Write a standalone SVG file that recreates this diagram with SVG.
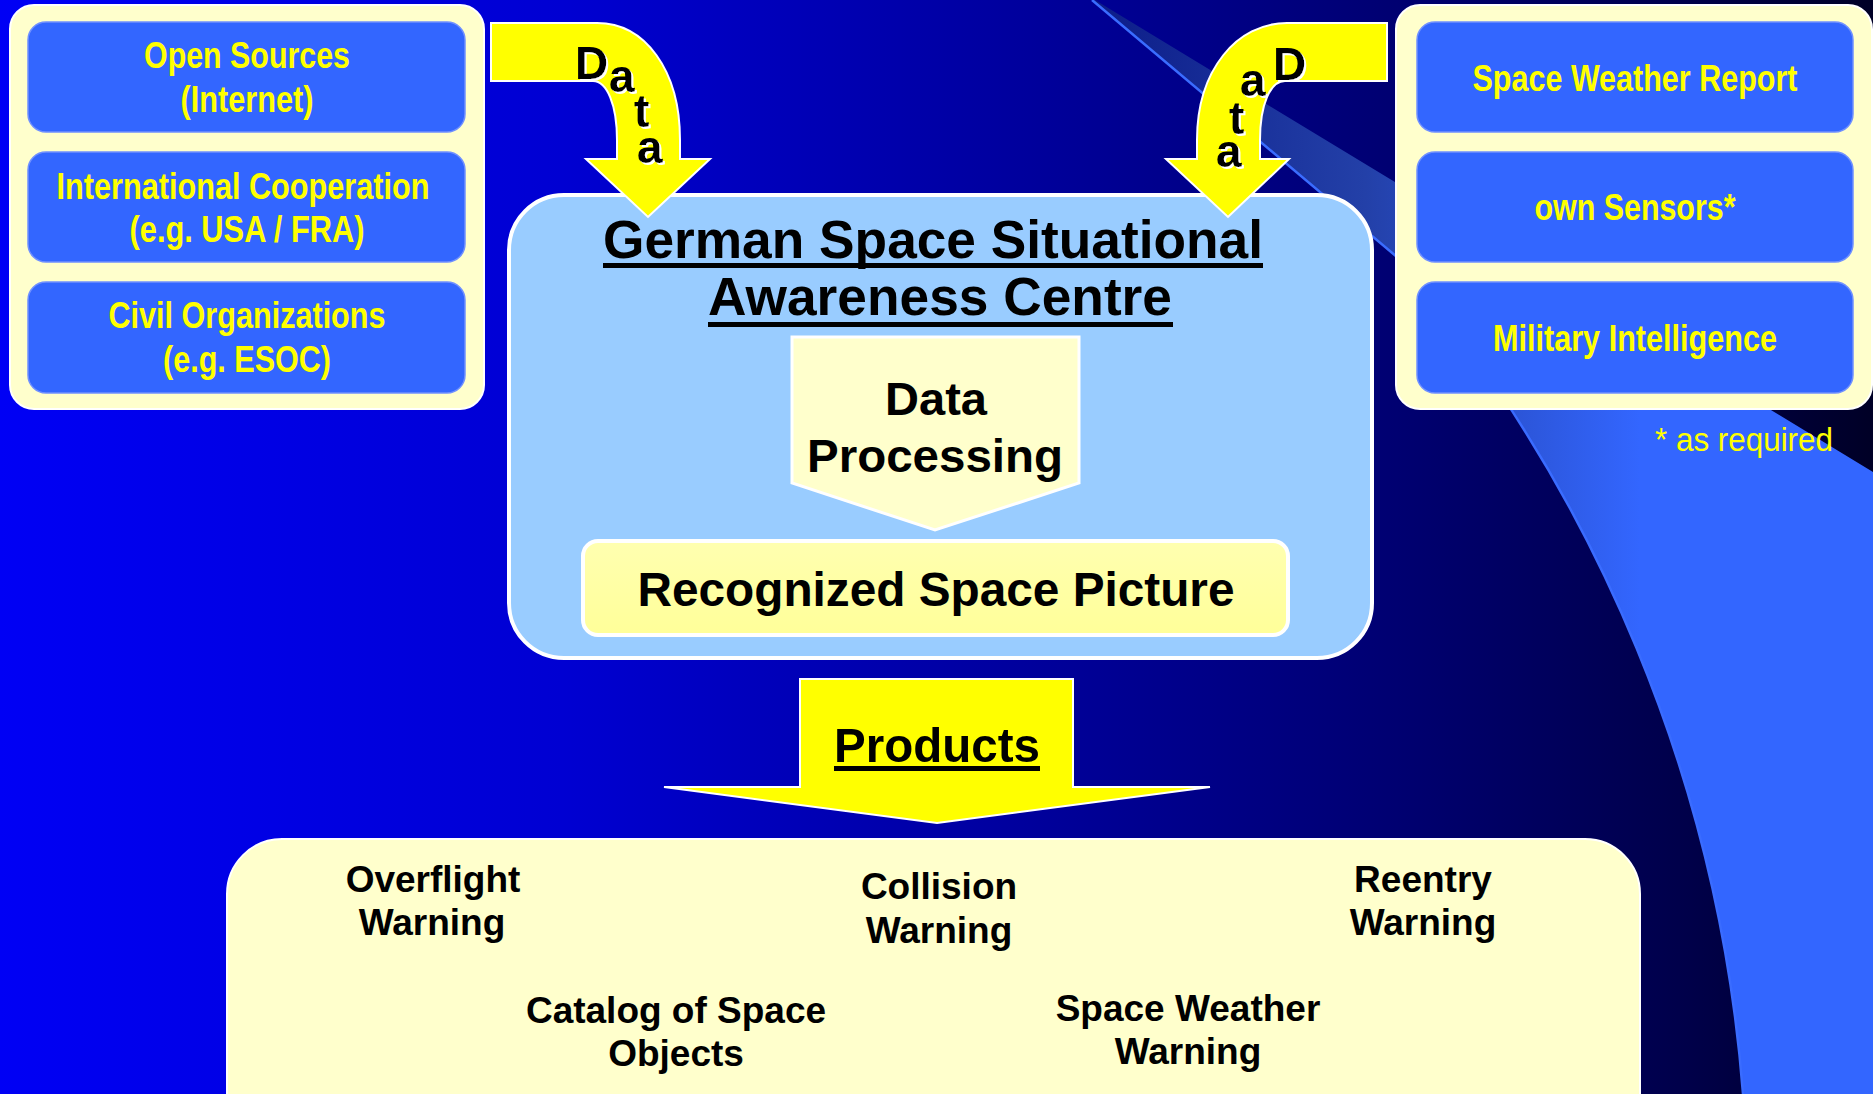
<svg xmlns="http://www.w3.org/2000/svg" width="1873" height="1094" viewBox="0 0 1873 1094">
  <defs>
    <linearGradient id="bg" x1="0" y1="0" x2="1" y2="0">
      <stop offset="0" stop-color="#0000f5"/>
      <stop offset="0.3" stop-color="#0000d2"/>
      <stop offset="0.55" stop-color="#00009c"/>
      <stop offset="0.75" stop-color="#000070"/>
      <stop offset="0.9" stop-color="#00004a"/>
      <stop offset="1" stop-color="#000026"/>
    </linearGradient>
    <linearGradient id="sw" gradientUnits="userSpaceOnUse" x1="1090" y1="0" x2="1640" y2="0">
      <stop offset="0" stop-color="#0c1c88"/>
      <stop offset="0.5" stop-color="#2340a8"/>
      <stop offset="1" stop-color="#3366ff"/>
    </linearGradient>
    <linearGradient id="rsp" x1="0" y1="0" x2="0" y2="1">
      <stop offset="0" stop-color="#ffffb0"/>
      <stop offset="1" stop-color="#ffff99"/>
    </linearGradient>
    <filter id="ws" x="-20%" y="-20%" width="150%" height="150%">
      <feFlood flood-color="#ffffff" result="w"/>
      <feComposite in="w" in2="SourceAlpha" operator="in" result="wa"/>
      <feOffset in="wa" dx="2" dy="2" result="off"/>
      <feMerge>
        <feMergeNode in="off"/>
        <feMergeNode in="SourceGraphic"/>
      </feMerge>
    </filter>
  </defs>
  <style>
    .cond { font-family: 'Liberation Sans', Arial, sans-serif; font-weight: bold; font-size: 36px; fill: #ffff00; text-anchor: middle; }
    .blk { font-family: 'Liberation Sans', Arial, sans-serif; font-weight: bold; fill: #000000; text-anchor: middle; }
    .let { font-family: 'Liberation Sans', Arial, sans-serif; font-weight: bold; font-size: 46px; fill: #000000; filter: url(#ws); }
    .outer { fill: #ffffcc; stroke: #ffffff; stroke-width: 2; }
    .src { fill: #3366ff; stroke: #7090ff; stroke-width: 1.5; }
    .arrow { fill: #ffff00; stroke: #ffffff; stroke-width: 2; }
    .ul { fill: #000000; }
  </style>

  <rect x="0" y="0" width="1873" height="1094" fill="url(#bg)"/>

  <g id="swoosh">
    <path d="M1092,0 L1397,257 A1460,1460 0 0 1 1743,1094 L1873,1094 L1873,472 L1095,0 Z" fill="url(#sw)"/>
    <path d="M1092,0 L1397,257 A1460,1460 0 0 1 1743,1094" fill="none" stroke="#3a6cff" stroke-width="2.5"/>
  </g>

  <g id="sources-left">
    <rect class="outer" x="10" y="5" width="474" height="404" rx="24"/>
    <g id="open-sources">
      <rect class="src" x="28" y="22" width="437" height="110" rx="18"/>
      <text class="cond" x="247" y="68" textLength="206" lengthAdjust="spacingAndGlyphs">Open Sources</text>
      <text class="cond" x="247" y="112" textLength="133" lengthAdjust="spacingAndGlyphs">(Internet)</text>
    </g>
    <g id="international-cooperation">
      <rect class="src" x="28" y="152" width="437" height="110" rx="18"/>
      <text class="cond" x="243" y="199" textLength="373" lengthAdjust="spacingAndGlyphs">International Cooperation</text>
      <text class="cond" x="247" y="242" textLength="235" lengthAdjust="spacingAndGlyphs">(e.g. USA / FRA)</text>
    </g>
    <g id="civil-organizations">
      <rect class="src" x="28" y="282" width="437" height="111" rx="18"/>
      <text class="cond" x="247" y="328" textLength="277" lengthAdjust="spacingAndGlyphs">Civil Organizations</text>
      <text class="cond" x="247" y="372" textLength="168" lengthAdjust="spacingAndGlyphs">(e.g. ESOC)</text>
    </g>
  </g>

  <g id="sources-right">
    <rect class="outer" x="1396" y="5" width="476" height="404" rx="24"/>
    <g id="space-weather-report">
      <rect class="src" x="1417" y="22" width="436" height="110" rx="18"/>
      <text class="cond" x="1635" y="91" textLength="325" lengthAdjust="spacingAndGlyphs">Space Weather Report</text>
    </g>
    <g id="own-sensors">
      <rect class="src" x="1417" y="152" width="436" height="110" rx="18"/>
      <text class="cond" x="1635" y="220" textLength="201" lengthAdjust="spacingAndGlyphs">own Sensors*</text>
    </g>
    <g id="military-intelligence">
      <rect class="src" x="1417" y="282" width="436" height="111" rx="18"/>
      <text class="cond" x="1635" y="351" textLength="284" lengthAdjust="spacingAndGlyphs">Military Intelligence</text>
    </g>
  </g>

  <g id="note">
    <text x="1655" y="451" font-family="'Liberation Sans', Arial, sans-serif" font-size="33" fill="#ffff00" textLength="178" lengthAdjust="spacingAndGlyphs">* as required</text>
  </g>

  <g id="centre">
    <rect x="509" y="195" width="863" height="463" rx="55" fill="#99ccff" stroke="#ffffff" stroke-width="4"/>
    <text class="blk" x="933" y="258" font-size="53" textLength="660" lengthAdjust="spacingAndGlyphs">German Space Situational</text>
    <rect class="ul" x="603" y="263" width="660" height="5"/>
    <text class="blk" x="940" y="315" font-size="53" textLength="464" lengthAdjust="spacingAndGlyphs">Awareness Centre</text>
    <rect class="ul" x="708" y="322" width="465" height="5"/>
    <g id="data-processing">
      <polygon points="792,337 1079,337 1079,483 935,530 792,483" fill="#ffffcc" stroke="#ffffff" stroke-width="3"/>
      <text class="blk" x="936" y="415" font-size="47">Data</text>
      <text class="blk" x="935" y="472" font-size="47" textLength="256" lengthAdjust="spacingAndGlyphs">Processing</text>
    </g>
    <g id="recognized-space-picture">
      <rect x="583" y="541" width="705" height="94" rx="15" fill="url(#rsp)" stroke="#ffffff" stroke-width="4"/>
      <text class="blk" x="936" y="606" font-size="48" textLength="597" lengthAdjust="spacingAndGlyphs">Recognized Space Picture</text>
    </g>
  </g>

  <g id="products-box">
    <rect class="outer" x="227" y="839" width="1413" height="320" rx="55"/>
    <g id="overflight-warning">
      <text class="blk" x="433" y="892" font-size="37">Overflight</text>
      <text class="blk" x="432" y="935" font-size="37">Warning</text>
    </g>
    <g id="collision-warning">
      <text class="blk" x="939" y="899" font-size="37">Collision</text>
      <text class="blk" x="939" y="943" font-size="37">Warning</text>
    </g>
    <g id="reentry-warning">
      <text class="blk" x="1423" y="892" font-size="37">Reentry</text>
      <text class="blk" x="1423" y="935" font-size="37">Warning</text>
    </g>
    <g id="catalog">
      <text class="blk" x="676" y="1023" font-size="37">Catalog of Space</text>
      <text class="blk" x="676" y="1066" font-size="37">Objects</text>
    </g>
    <g id="space-weather-warning">
      <text class="blk" x="1188" y="1021" font-size="37">Space Weather</text>
      <text class="blk" x="1188" y="1064" font-size="37">Warning</text>
    </g>
  </g>

  <g id="connectors">
    <g id="data-left">
      <path class="arrow" d="M491,23 L597,23 C645,23 680,70 680,140 L680,159 L710,159 L648,217 L586,159 L617,159 L617,140 C617,105 607,81 593,81 L491,81 Z"/>
      <text class="let" x="575" y="79">D</text>
      <text class="let" x="609" y="92">a</text>
      <text class="let" x="634" y="127">t</text>
      <text class="let" x="637" y="163">a</text>
    </g>
    <g id="data-right">
      <path class="arrow" d="M1387,23 L1287,23 C1237,23 1197,70 1197,140 L1197,159 L1166,159 L1228,217 L1289,159 L1260,159 L1260,140 C1260,105 1270,81 1285,81 L1387,81 Z"/>
      <text class="let" x="1273" y="80">D</text>
      <text class="let" x="1240" y="96">a</text>
      <text class="let" x="1229" y="134">t</text>
      <text class="let" x="1216" y="167">a</text>
    </g>
    <g id="products-arrow">
      <polygon class="arrow" points="800,679 1073,679 1073,787 1210,787 937,823 664,787 800,787"/>
      <text class="blk" x="937" y="762" font-size="49" textLength="206" lengthAdjust="spacingAndGlyphs">Products</text>
      <rect class="ul" x="834" y="766" width="206" height="5"/>
    </g>
  </g>
</svg>
